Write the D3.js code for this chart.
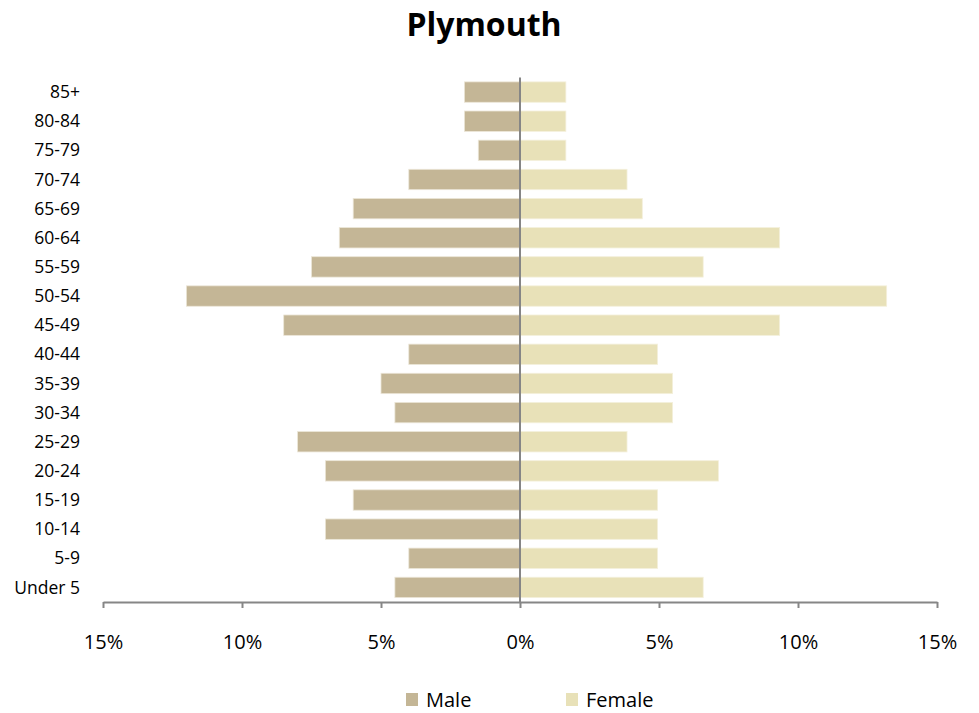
<!DOCTYPE html>
<html>
<head>
<meta charset="utf-8">
<script src="https://cdn.jsdelivr.net/npm/d3@7/dist/d3.min.js"></script>
<style>
  body { margin: 0; background: #fff; }
  svg text { font-family: "Open Sans", Lato, sans-serif; fill: #000; }
</style>
</head>
<body>
<div id="chart"></div>
<script>
// age groups, top to bottom
const ageGroups = ["85+", "80-84", "75-79", "70-74", "65-69", "60-64", "55-59", "50-54", "45-49",
  "40-44", "35-39", "30-34", "25-29", "20-24", "15-19", "10-14", "5-9", "Under 5"];
// percent of each sex
const maleValues = [2, 2, 1.5, 4, 6, 6.5, 7.5, 12, 8.5, 4, 5, 4.5, 8, 7, 6, 7, 4, 4.5];
const femaleValues = [1.65, 1.65, 1.65, 3.85, 4.4, 9.34, 6.59, 13.19, 9.34,
  4.95, 5.49, 5.49, 3.85, 7.14, 4.95, 4.95, 4.95, 6.59];
const xTicks = [-15, -10, -5, 0, 5, 10, 15];
const seriesNames = ["Male", "Female"];
const colors = { Male: "#c4b696", Female: "#e8e1b8" };

const width = 979, height = 713;
const margin = { top: 77.5, right: 42, bottom: 111, left: 103 };

const svg = d3.select("#chart").append("svg")
  .attr("width", width)
  .attr("height", height);

const x = d3.scaleLinear().domain([-15, 15]).range([margin.left, width - margin.right]);
const y = d3.scaleBand().domain(ageGroups)
  .range([margin.top, height - margin.bottom])
  .paddingInner(0.3).paddingOuter(0.15);

// title
svg.append("text")
  .attr("x", 484).attr("y", 36)
  .attr("text-anchor", "middle")
  .style("font-size", "32px").style("font-weight", "bold")
  .text("Plymouth");

const rows = ageGroups.map((g, i) => ({ group: g, male: maleValues[i], female: femaleValues[i] }));

// male bars (left)
svg.append("g").selectAll("rect").data(rows).join("rect")
  .attr("x", d => x(-d.male))
  .attr("y", d => y(d.group))
  .attr("width", d => x(0) - x(-d.male))
  .attr("height", y.bandwidth())
  .attr("fill", colors.Male)
  .attr("stroke", "#ece6d8").attr("stroke-width", 0.8);

// female bars (right)
svg.append("g").selectAll("rect").data(rows).join("rect")
  .attr("x", x(0))
  .attr("y", d => y(d.group))
  .attr("width", d => x(d.female) - x(0))
  .attr("height", y.bandwidth())
  .attr("fill", colors.Female)
  .attr("stroke", "#f4f0dc").attr("stroke-width", 0.8);

// category labels
svg.append("g").selectAll("text").data(ageGroups).join("text")
  .attr("x", 80)
  .attr("y", d => y(d) + y.bandwidth() / 2)
  .attr("dy", "0.35em")
  .attr("text-anchor", "end")
  .style("font-size", "17.5px")
  .text(d => d);

// x axis
const xAxis = svg.append("g")
  .attr("transform", `translate(0,${height - margin.bottom})`)
  .call(d3.axisBottom(x).tickValues(xTicks).tickSize(6).tickSizeOuter(0).tickPadding(27)
    .tickFormat(d => Math.abs(d) + "%"));
xAxis.select(".domain").attr("stroke", "#868686").attr("stroke-width", 2);
xAxis.selectAll(".tick line").attr("stroke", "#868686").attr("stroke-width", 2);
xAxis.selectAll(".tick text").style("font-size", "20px").attr("font-family", null);

// zero line
svg.append("line")
  .attr("x1", x(0)).attr("x2", x(0))
  .attr("y1", margin.top).attr("y2", height - margin.bottom)
  .attr("stroke", "#868686").attr("stroke-width", 2);

// legend
const legendX = [406, 566];
const legend = svg.append("g").selectAll("g").data(seriesNames).join("g")
  .attr("transform", (d, i) => `translate(${legendX[i]},693)`);
legend.append("rect")
  .attr("width", 12).attr("height", 13)
  .attr("fill", d => colors[d]);
legend.append("text")
  .attr("x", 20).attr("y", 6.5).attr("dy", "0.35em")
  .style("font-size", "20px")
  .text(d => d);
</script>
</body>
</html>
